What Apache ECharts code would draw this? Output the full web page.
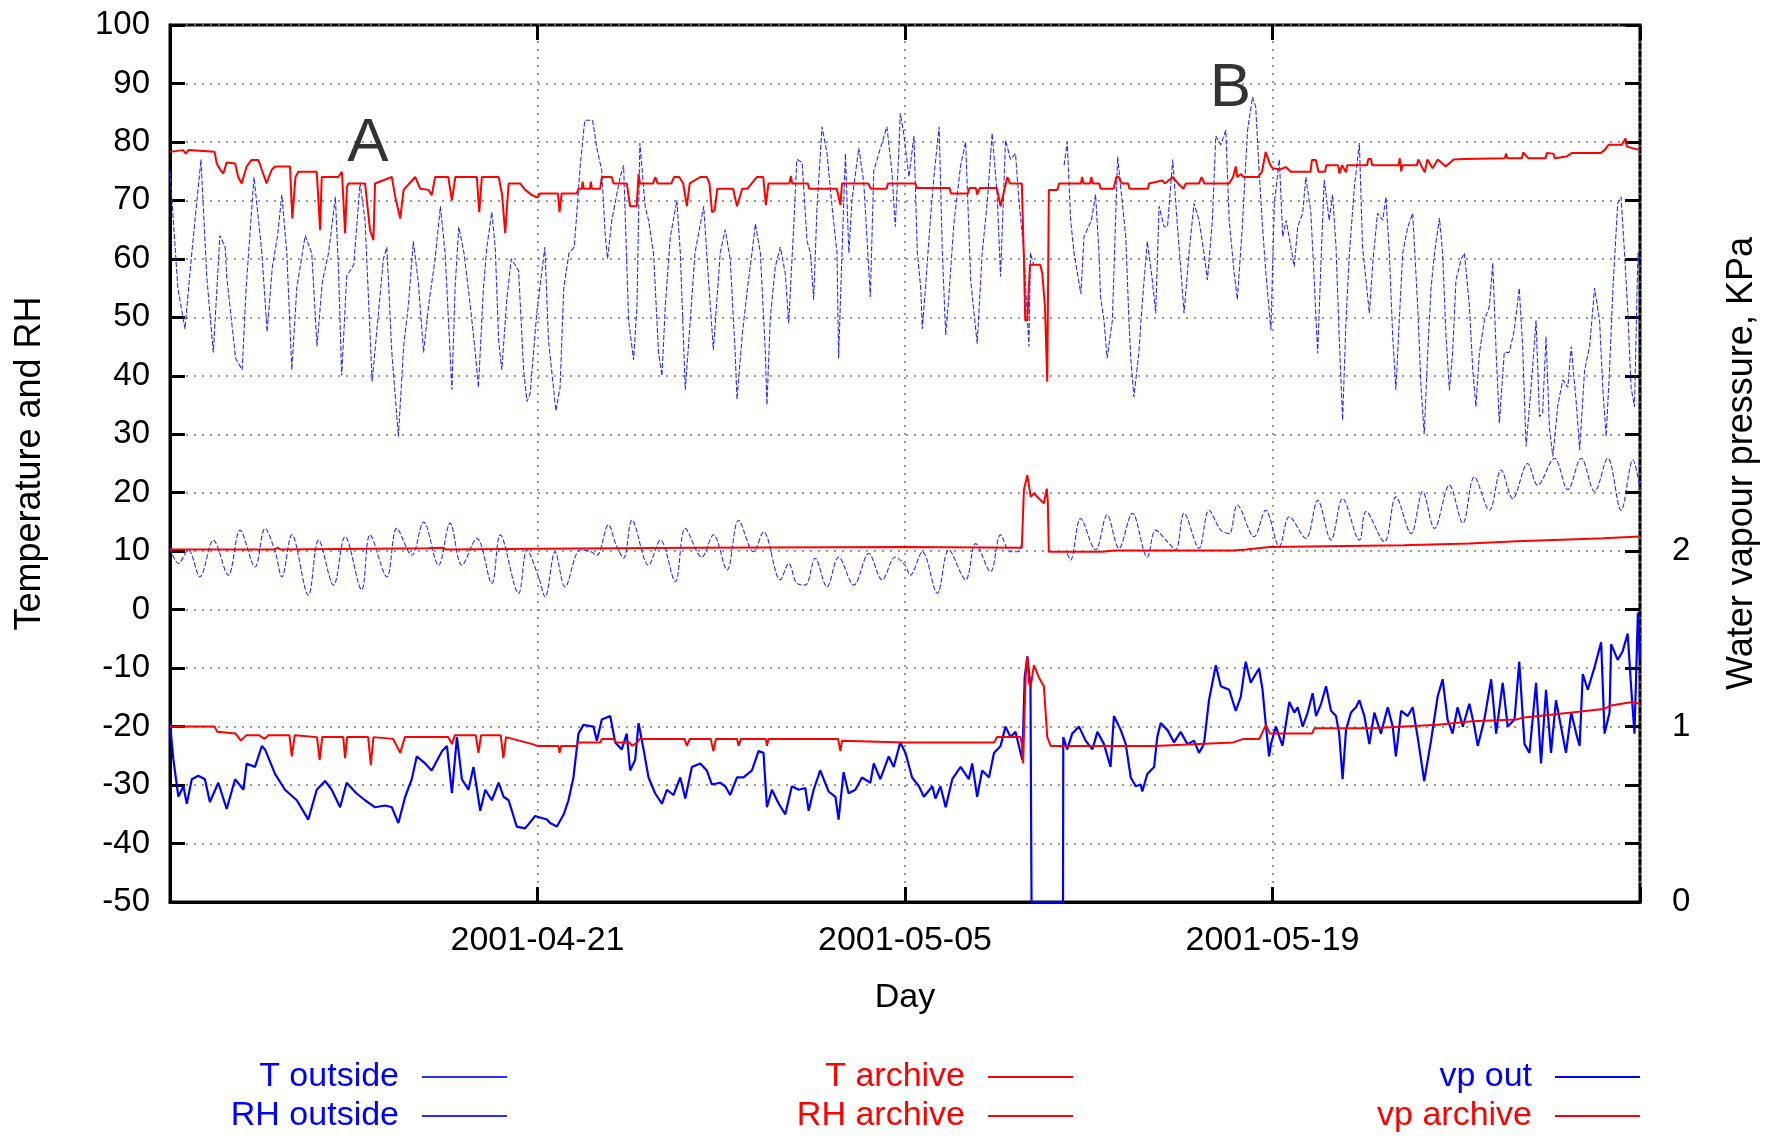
<!DOCTYPE html>
<html>
<head>
<meta charset="utf-8">
<title>Temperature, RH and water vapour pressure</title>
<script src="https://cdn.jsdelivr.net/npm/echarts@6/dist/echarts.min.js"></script>
<style>
  html, body { margin: 0; padding: 0; background: #fff; }
  #chart { width: 1777px; height: 1136px; }
</style>
</head>
<body>
<div id="chart"></div>
<script>
// x values are days since 2001-04-07
const START = Date.UTC(2001, 3, 7)
const DAY_SPAN = 56
const DAY_STEP = 14
const kpaLabels = [0, 1, 2]

// [day, °C]
const tOutside = [[0,10.5],[0.32,7.9],[0.7,10.2],[1.14,5.6],[1.65,11.9],[2.22,5.9],[2.67,13.6],[3.24,7.3],[3.62,13.9],[4.0,10.0],[4.26,5.6],[4.64,12.8],[5.27,2.5],[5.66,11.9],[6.23,4.2],[6.67,12.5],[7.3,3.4],[7.62,12.8],[8.26,5.6],[8.64,13.9],[9.21,9.3],[9.66,15.0],[10.23,7.6],[10.67,14.8],[11.12,7.6],[11.69,12.2],[12.26,4.5],[12.58,12.8],[13.28,2.8],[13.6,10.2],[14.04,5.6],[14.29,2.2],[14.67,9.9],[15.05,3.9],[15.63,10.2],[16.0,10.0],[16.26,9.3],[16.7,14.5],[17.0,11.0],[17.28,8.8],[17.6,15.3],[18.23,7.6],[18.68,11.9],[19.25,4.8],[19.63,13.9],[20.26,9.0],[20.7,12.8],[21.22,6.8],[21.66,15.3],[22.23,9.9],[22.61,13.3],[23.25,5.1],[23.57,7.9],[23.88,4.5],[24.2,4.2],[24.58,8.8],[25.03,3.9],[25.47,9.0],[26.05,4.2],[26.62,9.6],[27.13,5.1],[27.63,9.0],[28.0,7.6],[28.2,5.9],[28.66,9.9],[29.23,2.8],[29.67,10.2],[30.31,5.1],[30.69,11.3],[31.26,6.5],[31.64,12.8],[32.02,9.9],[32.3,9.9],[32.45,11.5],[33.3,null],[34.18,9.6],[34.31,8.5],[34.69,15.6],[35.26,10.2],[35.7,16.2],[36.15,10.5],[36.66,16.5],[37.23,9.0],[37.55,13.6],[38.0,11.6],[38.31,10.2],[38.63,16.5],[39.2,10.5],[39.58,17.0],[40.03,13.6],[40.35,13.0],[40.66,17.9],[41.3,12.5],[41.74,17.0],[42.26,10.8],[42.64,15.9],[43.27,12.2],[43.72,18.7],[44.23,11.9],[44.67,19.0],[45.31,11.9],[45.56,16.8],[46.26,11.6],[46.7,19.3],[47.28,13.0],[47.72,20.2],[48.17,13.9],[48.74,21.3],[49.25,14.8],[49.69,22.7],[50.26,17.0],[50.71,23.9],[51.15,19.0],[51.72,25.0],[52.1,21.3],[52.74,25.9],[53.25,20.5],[53.76,25.9],[54.27,20.2],[54.77,25.9],[55.28,17.0],[55.73,25.6],[56.0,20.7]]

// [day, %]
const rhOutside = [[0,75],[0.3,55],[0.57,48],[0.83,61],[1.18,77],[1.4,57],[1.65,44],[1.9,64],[2.1,62],[2.16,57],[2.5,43],[2.75,41],[2.9,55],[3.2,74],[3.5,61],[3.7,47.5],[3.9,58.7],[4.1,64],[4.26,71],[4.45,61],[4.64,41],[4.83,55],[5.15,64],[5.4,61],[5.6,45],[5.8,56],[6.04,61],[6.3,70.6],[6.42,58],[6.54,40],[6.73,57],[7.0,59],[7.24,73],[7.43,66.6],[7.7,39],[7.94,50.7],[8.13,60],[8.26,62],[8.45,44],[8.7,29.6],[8.9,45],[9.08,52],[9.27,63],[9.46,56],[9.66,44],[9.85,52],[10.1,60],[10.3,69],[10.48,61],[10.74,37.6],[10.86,55],[11.0,65.5],[11.2,61],[11.44,52],[11.63,44],[11.75,38],[11.94,55],[12.07,62],[12.26,68],[12.39,62],[12.52,46],[12.64,41],[12.83,53],[13.0,60],[13.28,58],[13.47,41],[13.6,35.6],[13.72,37],[13.97,50.7],[14.28,62],[14.42,46],[14.7,34],[14.86,38],[15.0,55],[15.2,61],[15.4,62],[15.5,68],[15.63,76],[15.8,83.7],[16.1,83.7],[16.26,79],[16.45,75],[16.58,64],[16.67,60],[16.83,66.6],[17.15,74],[17.28,76],[17.47,49.5],[17.66,42.7],[17.79,52],[17.9,79.8],[18.1,69],[18.23,66.6],[18.42,61],[18.61,44],[18.74,40],[18.87,52],[19.06,63.8],[19.31,70],[19.44,61],[19.63,37.6],[19.82,49.5],[20.0,61],[20.33,69],[20.52,56],[20.7,44.4],[20.96,61],[21.15,65],[21.34,60],[21.53,44],[21.6,36],[21.8,47],[22.0,55],[22.17,61],[22.3,66],[22.49,61],[22.68,44],[22.74,35],[22.87,50],[23.06,58.7],[23.25,62],[23.44,57.5],[23.57,49],[23.76,65.5],[23.88,77],[24.08,76.5],[24.27,63],[24.4,61],[24.52,53],[24.65,69],[24.84,82.6],[25.03,78],[25.22,69],[25.41,61],[25.47,43],[25.6,61],[25.73,78],[25.86,61],[25.98,70],[26.24,79],[26.43,73],[26.68,53.5],[26.81,75],[27.0,78],[27.31,82.6],[27.5,75],[27.63,65.5],[27.76,78],[27.82,84.9],[27.95,81.5],[28.15,74],[28.34,81],[28.47,61],[28.6,55],[28.66,48],[28.78,55],[28.97,67],[29.1,74],[29.3,82.6],[29.42,61.5],[29.55,47],[29.67,53.5],[29.86,66],[30.12,76],[30.31,80],[30.5,56.5],[30.63,50.7],[30.75,45.5],[30.94,61],[31.13,69.5],[31.32,81.5],[31.51,71],[31.64,57],[31.83,80.3],[32.02,77],[32.21,78],[32.34,70],[32.53,61],[32.72,45],[32.78,61],[32.9,59],[33.4,null],[34.06,76],[34.18,80],[34.31,66.6],[34.44,61],[34.7,54],[34.82,63.8],[34.98,65.4],[35.1,66.6],[35.26,71],[35.39,61],[35.45,53.5],[35.58,49.5],[35.7,43],[35.9,49.5],[36.1,77.5],[36.28,69.5],[36.41,63.8],[36.53,49.5],[36.6,43],[36.72,36.4],[36.91,44],[37.03,52],[37.23,63],[37.42,56.4],[37.55,50.7],[37.68,69],[37.87,65.5],[38.0,65.5],[38.2,77],[38.38,65.5],[38.5,58.7],[38.63,50.7],[38.82,61],[39.01,69.5],[39.2,66.6],[39.39,61],[39.52,56.4],[39.71,66.6],[39.84,81],[40.03,79.5],[40.22,82],[40.35,66.6],[40.54,57.6],[40.66,53],[40.85,65.5],[41.05,82],[41.24,87.7],[41.36,86],[41.49,75],[41.62,65.5],[41.74,58],[41.94,47.8],[42.07,69.5],[42.26,77],[42.39,63.8],[42.52,66.6],[42.7,62],[42.83,58.7],[42.96,65.5],[43.15,67.8],[43.27,74],[43.46,68],[43.59,56.4],[43.72,43.8],[43.85,59.8],[43.97,73.5],[44.16,66.6],[44.29,71],[44.42,62],[44.54,46.7],[44.67,32.4],[44.8,49.5],[44.93,61],[45.12,72.3],[45.31,79.8],[45.43,62],[45.56,56.4],[45.69,50.7],[45.82,59.3],[46.0,67.8],[46.2,66.6],[46.32,70.6],[46.45,61],[46.58,46.7],[46.7,37.6],[46.83,49.5],[46.96,61],[47.15,65.4],[47.34,67.8],[47.53,52],[47.66,38],[47.78,30],[47.91,43.8],[48.04,55],[48.17,61],[48.36,67],[48.48,61],[48.61,46.7],[48.74,37.6],[48.86,43.8],[48.99,56.4],[49.18,59.8],[49.31,61],[49.5,52],[49.63,41],[49.75,34.7],[49.88,43.8],[50.07,49.5],[50.26,51.8],[50.39,59.3],[50.52,44],[50.64,31.9],[50.83,44],[51.02,44],[51.21,47.8],[51.4,55],[51.53,45],[51.66,27.9],[51.85,38],[52.04,49.5],[52.17,33],[52.29,33.6],[52.42,46.7],[52.55,31],[52.68,26.2],[52.87,35],[53.06,39.3],[53.25,38],[53.38,45],[53.57,35.5],[53.7,27.3],[53.89,41],[54.08,45],[54.27,55],[54.46,49.5],[54.58,38],[54.71,29.6],[54.84,41],[54.97,55],[55.15,69.5],[55.28,70.6],[55.41,61],[55.53,51.3],[55.66,38],[55.79,34.7],[55.92,61],[56.0,57.5]]

// [day, °C]
const tArchive = [[0,10.3],[4.0,10.3],[4.1,10.6],[4.2,10.3],[9.8,10.5],[10.4,10.6],[10.5,10.3],[14,10.4],[20,10.6],[28,10.7],[32.45,10.6],[32.53,20.5],[32.66,23],[32.79,19.3],[32.91,19.9],[33.17,18.7],[33.29,18.2],[33.4,20.7],[33.44,18.5],[33.48,9.9],[35.5,9.9],[36,10.1],[40.5,10.1],[41,10.3],[41.9,10.7],[47,11.0],[49.5,11.3],[51.3,11.7],[53.3,12.0],[54.6,12.2],[56,12.5]]

// [day, %]
const rhArchive = [[0,78.3],[0.5,78.6],[0.6,78],[0.7,78.6],[1.7,78.3],[1.78,76.3],[1.95,75],[2.03,74.6],[2.16,76.5],[2.48,76.3],[2.6,74],[2.73,72.9],[2.92,75.8],[3.1,76.9],[3.37,76.9],[3.5,75.2],[3.68,72.9],[3.87,75.2],[4.0,75.8],[4.57,75.8],[4.66,66.9],[4.78,74],[4.89,74.9],[5.59,74.9],[5.72,64.9],[5.78,74],[6.42,74],[6.55,74.9],[6.67,64.4],[6.74,72.3],[6.8,72.9],[7.43,72.9],[7.62,64.9],[7.75,63.2],[7.81,72.9],[8.45,74],[8.58,70.6],[8.77,66.9],[8.9,71.8],[9.34,74],[9.53,72],[9.85,71.8],[9.97,70.9],[10.1,74],[10.6,74],[10.74,70],[10.87,74],[11.69,74],[11.78,68],[11.88,74],[12.52,74],[12.65,71],[12.77,64.4],[12.9,72.9],[13.34,72.9],[13.53,71.8],[13.79,70.9],[14.0,70.5],[14.1,71.2],[14.78,71.2],[14.84,68],[14.92,71.2],[15.5,71.2],[15.56,72],[15.69,72],[15.72,73.2],[15.76,72],[16.0,72],[16.03,73.2],[16.07,72],[16.39,72],[16.45,74],[16.83,74],[16.9,72.9],[17.4,72.9],[17.53,69],[17.78,69],[17.85,74.5],[17.9,72.9],[18.4,72.9],[18.49,74],[18.57,72.9],[19.1,72.9],[19.2,74],[19.4,74],[19.55,72.9],[19.69,69],[19.8,72.9],[20.2,74],[20.45,74],[20.55,72.9],[20.65,68],[20.75,68.3],[20.85,72],[21.45,72],[21.6,69],[21.66,69.2],[21.8,72],[22.0,72],[22.35,74],[22.6,74],[22.7,69.2],[22.8,72.9],[23.6,72.9],[23.65,74.2],[23.7,72.9],[24.3,72.9],[24.35,72],[25.4,72],[25.54,69.2],[25.6,72.9],[26.6,72.9],[26.7,72],[27.3,72],[27.35,72.9],[28.4,72.9],[28.45,72.1],[29.7,72.1],[29.75,71.2],[30.4,71.2],[30.45,72.1],[30.7,72.1],[30.75,71],[30.85,72.1],[31.5,72.1],[31.64,69],[31.9,74],[32.0,72.9],[32.45,72.9],[32.53,60],[32.58,49.5],[32.66,49.5],[32.76,59],[33.15,59],[33.23,57.5],[33.33,52],[33.42,39],[33.48,71.8],[33.8,71.8],[33.87,72.9],[34.7,72.9],[34.75,74],[34.8,72.9],[35.05,72.9],[35.1,74],[35.15,72.9],[35.4,72.9],[35.45,72],[35.95,72],[36.05,74],[36.15,74],[36.25,72.9],[36.5,72.9],[36.55,72],[37.25,72],[37.3,72.9],[37.8,73.4],[37.9,72.9],[38.2,74],[38.4,72.9],[38.6,72],[38.7,72.9],[39.2,72.9],[39.3,74],[39.4,72.9],[40.35,72.9],[40.5,74],[40.6,75.8],[40.66,74],[40.8,74.5],[40.9,74],[41.45,74],[41.6,74.9],[41.74,78.3],[41.9,76.2],[42.0,75.5],[42.3,75.3],[42.5,75.7],[42.7,74.9],[43.45,74.9],[43.5,76.9],[43.65,76.9],[43.75,74.9],[44.0,74.9],[44.05,76],[44.5,76],[44.55,74.6],[44.65,76],[44.8,74.8],[44.85,76],[45.6,76],[45.65,77.1],[45.75,77.1],[45.8,76],[46.8,76],[46.85,77.2],[46.9,75],[46.95,76],[47.5,76],[47.55,77],[47.8,74.8],[47.9,77],[48.1,75.5],[48.3,77],[48.6,75.8],[48.9,77],[49.3,77.1],[50.85,77.2],[50.9,78],[50.95,77.2],[51.5,77.2],[51.55,78.2],[51.75,77.2],[52.4,77.2],[52.45,78.1],[52.7,78],[52.75,77.2],[53.2,77.5],[53.4,78.1],[54.5,78.1],[54.65,78.6],[54.8,79.5],[55.3,79.5],[55.45,80.6],[55.5,79.2],[56,78.6]]

// [day, kPa]
const vpOut = [[0,1.02],[0.13,0.81],[0.32,0.60],[0.51,0.66],[0.64,0.56],[0.83,0.70],[1.08,0.72],[1.33,0.70],[1.52,0.57],[1.84,0.68],[2.16,0.53],[2.48,0.70],[2.8,0.64],[2.92,0.79],[3.24,0.77],[3.5,0.89],[3.62,0.87],[4.0,0.73],[4.38,0.64],[4.83,0.58],[5.27,0.47],[5.59,0.64],[5.91,0.69],[6.16,0.64],[6.48,0.54],[6.73,0.68],[7.1,0.62],[7.43,0.58],[7.81,0.54],[8.2,0.55],[8.45,0.54],[8.7,0.45],[8.96,0.60],[9.21,0.70],[9.4,0.83],[9.72,0.79],[9.97,0.75],[10.36,0.86],[10.55,0.89],[10.74,0.62],[10.93,0.94],[11.12,0.70],[11.37,0.64],[11.56,0.77],[11.82,0.52],[12.01,0.64],[12.26,0.58],[12.52,0.68],[12.71,0.60],[12.9,0.58],[13.21,0.43],[13.53,0.42],[13.91,0.49],[13.97,0.48],[14.36,0.47],[14.48,0.45],[14.74,0.43],[15.0,0.50],[15.18,0.58],[15.37,0.71],[15.56,0.96],[15.75,1.01],[16.13,1.00],[16.26,0.92],[16.45,1.04],[16.77,1.06],[16.96,0.91],[17.21,0.87],[17.4,0.96],[17.53,0.75],[17.72,0.81],[17.85,1.02],[18.04,0.87],[18.23,0.71],[18.48,0.62],[18.74,0.56],[18.93,0.64],[19.18,0.61],[19.44,0.71],[19.63,0.59],[19.88,0.77],[20.2,0.79],[20.45,0.75],[20.64,0.67],[20.96,0.68],[21.15,0.66],[21.34,0.61],[21.6,0.71],[21.85,0.71],[22.17,0.75],[22.42,0.86],[22.61,0.85],[22.74,0.54],[22.93,0.64],[23.19,0.56],[23.44,0.50],[23.69,0.66],[23.95,0.64],[24.2,0.65],[24.33,0.52],[24.52,0.64],[24.77,0.75],[25.09,0.63],[25.35,0.60],[25.47,0.47],[25.66,0.74],[25.85,0.62],[26.11,0.64],[26.36,0.71],[26.68,0.68],[26.81,0.79],[27.06,0.70],[27.38,0.83],[27.57,0.77],[27.82,0.91],[28.02,0.85],[28.27,0.71],[28.53,0.66],[28.72,0.60],[29.04,0.66],[29.16,0.59],[29.35,0.66],[29.55,0.54],[29.8,0.70],[30.12,0.77],[30.43,0.70],[30.56,0.79],[30.75,0.60],[30.94,0.75],[31.2,0.71],[31.39,0.85],[31.64,0.89],[31.83,1.00],[32.02,0.94],[32.21,0.97],[32.34,0.89],[32.47,0.81],[32.56,1.28],[32.66,1.40],[32.78,1.23],[32.82,0],[34.02,0],[34.03,0.94],[34.18,0.87],[34.37,0.96],[34.63,1.00],[34.88,0.92],[35.14,0.87],[35.33,0.97],[35.58,0.90],[35.83,0.77],[35.96,1.06],[36.22,0.98],[36.41,0.90],[36.6,0.71],[36.79,0.66],[36.98,0.67],[37.04,0.63],[37.23,0.73],[37.49,0.77],[37.61,0.94],[37.74,1.02],[38.0,0.98],[38.25,0.91],[38.5,0.97],[38.76,0.90],[39.01,0.92],[39.2,0.85],[39.39,0.90],[39.58,1.15],[39.84,1.35],[40.03,1.23],[40.35,1.21],[40.6,1.09],[40.79,1.17],[40.98,1.37],[41.17,1.25],[41.36,1.30],[41.49,1.33],[41.62,1.21],[41.74,1.02],[41.87,0.83],[41.94,0.90],[42.13,1.00],[42.38,0.89],[42.64,1.14],[42.83,1.08],[42.96,1.11],[43.15,1.00],[43.34,1.08],[43.53,1.19],[43.66,1.06],[43.85,1.13],[44.04,1.23],[44.23,1.09],[44.42,1.06],[44.54,0.96],[44.67,0.70],[44.8,0.98],[44.99,1.08],[45.18,1.11],[45.31,1.15],[45.5,1.06],[45.69,0.90],[45.88,1.08],[46.13,0.96],[46.39,1.11],[46.58,1.00],[46.7,0.83],[46.9,1.09],[47.15,1.06],[47.34,1.11],[47.53,0.94],[47.78,0.69],[48.04,0.92],[48.29,1.17],[48.48,1.27],[48.67,1.04],[48.86,0.96],[49.05,1.11],[49.25,1.00],[49.5,1.13],[49.69,1.00],[49.82,0.89],[50.07,1.04],[50.33,1.27],[50.52,0.96],[50.77,1.25],[50.96,1.00],[51.22,1.04],[51.4,1.37],[51.6,0.90],[51.79,0.85],[52.04,1.25],[52.23,0.79],[52.42,1.21],[52.61,0.85],[52.8,1.15],[52.99,1.00],[53.18,0.85],[53.38,1.08],[53.57,0.96],[53.7,0.89],[53.82,1.30],[54.01,1.21],[54.27,1.34],[54.52,1.48],[54.65,0.96],[54.84,1.08],[54.9,1.47],[55.15,1.38],[55.34,1.43],[55.53,1.53],[55.66,1.23],[55.79,0.96],[55.92,1.65],[56.0,1.38]]

// [day, kPa]
const vpArchive = [[0,1.0],[1.7,1.0],[1.8,0.97],[2.5,0.96],[2.7,0.92],[2.9,0.95],[3.4,0.95],[3.6,0.93],[3.75,0.95],[4.55,0.95],[4.64,0.83],[4.75,0.95],[5.6,0.94],[5.7,0.81],[5.8,0.94],[6.6,0.94],[6.67,0.82],[6.75,0.94],[7.55,0.94],[7.65,0.78],[7.75,0.94],[8.5,0.93],[8.77,0.85],[8.95,0.94],[10.6,0.94],[10.74,0.90],[10.85,0.95],[11.65,0.95],[11.75,0.85],[11.85,0.95],[12.6,0.95],[12.7,0.82],[12.8,0.94],[13.3,0.92],[13.8,0.90],[14.0,0.89],[14.8,0.89],[14.84,0.85],[14.9,0.89],[15.5,0.89],[15.55,0.91],[16.4,0.91],[16.45,0.93],[16.9,0.93],[17.0,0.91],[17.5,0.91],[17.6,0.89],[17.8,0.91],[17.9,0.93],[19.6,0.93],[19.69,0.89],[19.8,0.93],[20.6,0.93],[20.7,0.86],[20.8,0.93],[21.6,0.93],[21.66,0.89],[21.75,0.93],[22.7,0.93],[22.74,0.89],[22.8,0.93],[25.45,0.93],[25.54,0.86],[25.6,0.92],[28.0,0.91],[29.5,0.91],[31.4,0.91],[31.5,0.94],[32.4,0.94],[32.45,0.90],[32.5,0.79],[32.55,0.79],[32.6,1.30],[32.66,1.40],[32.72,1.25],[32.79,1.23],[32.91,1.35],[33.1,1.28],[33.29,1.23],[33.42,0.94],[33.55,0.89],[35.5,0.89],[37.5,0.89],[39.0,0.90],[40.5,0.91],[40.9,0.93],[41.5,0.93],[41.75,1.01],[41.9,0.96],[43.5,0.96],[43.6,0.99],[45.75,0.99],[48.3,1.01],[49.6,1.03],[51.3,1.04],[51.5,1.05],[53.4,1.08],[54.6,1.10],[54.9,1.12],[55.7,1.14],[56,1.13]]

// letters written on the plot: [text, day, value]
const notes = [['A', 7.54, 79.6], ['B', 40.4, 89]]

const FONT = 'Liberation Sans'
const BLUE = '#0000ff'
const RED = '#ff0000'

const fmtDay = d => {
  if (d <= 0 || d >= DAY_SPAN) return ''
  return new Date(START + d * 86400000).toISOString().slice(0, 10)
}

const line = (name, data, color, width, yAxisIndex, extra) => Object.assign({
  name,
  type: 'line',
  data,
  yAxisIndex,
  showSymbol: false,
  symbol: 'none',
  connectNulls: false,
  clip: true,
  lineStyle: { color, width },
  itemStyle: { color },
  emphasis: { disabled: true }
}, extra || {})

const legendBlock = (items, right) => ({
  orient: 'vertical',
  right,
  top: 1060,
  padding: 0,
  align: 'right',
  icon: 'rect',
  itemWidth: 85,
  itemHeight: 2,
  itemGap: 5,
  selectedMode: false,
  textStyle: { fontFamily: FONT, fontSize: 34, padding: [0, 18, 0, 0] },
  data: items.map(([name, color]) => ({ name, textStyle: { color } }))
})

const gridLine = { show: true, lineStyle: { color: '#777', width: 1.5, type: [2, 6] } }
const tick = { show: true, inside: true, length: 15, lineStyle: { color: '#000', width: 3 } }

const chart = echarts.init(document.getElementById('chart'), null, { renderer: 'canvas' })

chart.setOption({
  animation: false,
  backgroundColor: '#fff',
  textStyle: { fontFamily: FONT },
  grid: {
    left: 170, right: 137, top: 25, bottom: 234,
    show: true, borderColor: '#000', borderWidth: 3
  },
  legend: [
    legendBlock([['T outside', BLUE], ['RH outside', BLUE]], 1270),
    legendBlock([['T archive', RED], ['RH archive', RED]], 704),
    legendBlock([['vp out', BLUE], ['vp archive', RED]], 137)
  ],
  xAxis: [
    {
      type: 'value', min: 0, max: DAY_SPAN, interval: DAY_STEP,
      name: 'Day', nameLocation: 'middle', nameGap: 79,
      nameTextStyle: { fontSize: 34, color: '#000' },
      axisLine: { show: true, onZero: false, lineStyle: { color: '#000', width: 3 } },
      axisTick: tick,
      axisLabel: { fontSize: 34, color: '#000', margin: 22, formatter: fmtDay },
      splitLine: gridLine
    },
    {
      type: 'value', position: 'top', min: 0, max: DAY_SPAN, interval: DAY_STEP,
      axisLine: { show: false, onZero: false }, axisTick: tick, axisLabel: { show: false }, splitLine: { show: false }
    }
  ],
  yAxis: [
    {
      type: 'value', min: -50, max: 100, interval: 10,
      name: 'Temperature and RH', nameLocation: 'middle', nameRotate: 90, nameGap: 122,
      nameTextStyle: { fontSize: 36, color: '#000' },
      axisLine: { show: true, onZero: false, lineStyle: { color: '#000', width: 3 } },
      axisTick: tick,
      axisLabel: { fontSize: 33, color: '#000', margin: 20 },
      splitLine: gridLine
    },
    {
      type: 'value', position: 'right', min: 0, max: 5, interval: 1,
      name: 'Water vapour pressure, KPa', nameLocation: 'middle', nameRotate: 90, nameGap: 84,
      nameTextStyle: { fontSize: 36, color: '#000' },
      axisLine: { show: false, onZero: false }, axisTick: { show: false },
      axisLabel: {
        fontSize: 33, color: '#000', margin: 32,
        formatter: v => (kpaLabels.includes(v) ? String(v) : '')
      },
      splitLine: { show: false }
    },
    {
      type: 'value', position: 'right', min: -50, max: 100, interval: 10,
      axisLine: { show: false, onZero: false }, axisTick: tick, axisLabel: { show: false }, splitLine: { show: false }
    }
  ],
  series: [
    line('T outside', tOutside, '#2b2bff', 1.1, 0, { smooth: 0.35, lineStyle: { color: '#2b2bff', width: 1.1, type: [5, 2] } }),
    line('RH outside', rhOutside, '#2b2bff', 1.1, 0, { lineStyle: { color: '#2b2bff', width: 1.1, type: [5, 2] } }),
    line('T archive', tArchive, RED, 2, 0),
    line('RH archive', rhArchive, RED, 2, 0),
    line('vp out', vpOut, BLUE, 2.2, 1),
    line('vp archive', vpArchive, RED, 2, 1),
    {
      type: 'scatter',
      silent: true,
      symbolSize: 0,
      data: notes.map(([t, d, v]) => ({ name: t, value: [d, v] })),
      label: {
        show: true, position: 'inside', formatter: p => p.name,
        fontSize: 62, color: '#000', fontFamily: FONT
      }
    }
  ]
})
</script>
</body>
</html>
